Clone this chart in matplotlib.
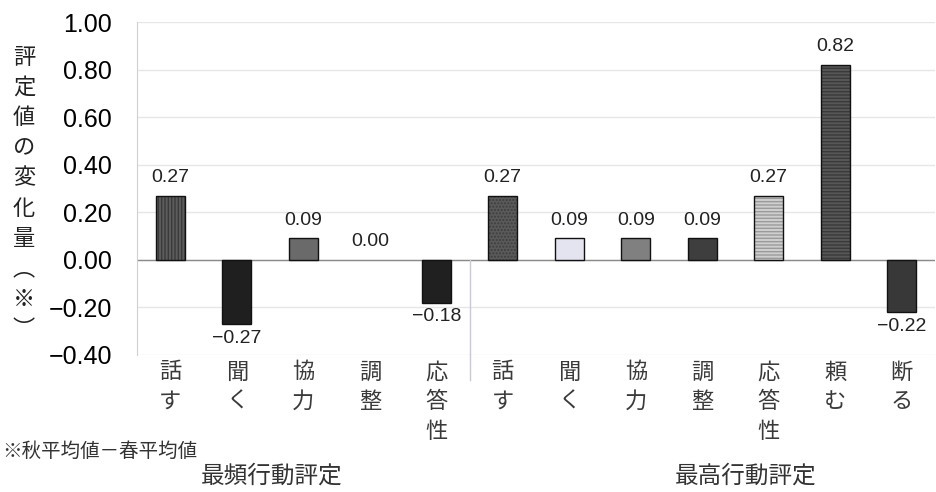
import matplotlib
matplotlib.use("Agg")
import matplotlib.pyplot as plt
import matplotlib.transforms as mtransforms

plt.rcParams['font.family'] = ['Liberation Sans', 'Noto Sans CJK JP', 'DejaVu Sans']
plt.rcParams['axes.unicode_minus'] = True

# change in rating (autumn mean - spring mean) per behaviour
categories = ['話す', '聞く', '協力', '調整', '応答性',
              '話す', '聞く', '協力', '調整', '応答性', '頼む', '断る']
values = [0.27, -0.27, 0.09, 0.00, -0.18,
          0.27, 0.09, 0.09, 0.09, 0.27, 0.82, -0.22]
groups = ['最頻行動評定', '最高行動評定']
group_sizes = [5, 7]
y_ticks = [-0.40, -0.20, 0.00, 0.20, 0.40, 0.60, 0.80, 1.00]
y_label = '評定値の変化量︵※︶'
note = '※秋平均値－春平均値'

face_colors = ['#5c5c5c', '#1f1f1f', '#6a6a6a', '#555555', '#202020',
               '#5a5a5a', '#e4e4f0', '#808080', '#3e3e3e', '#cfcfcf', '#575757', '#383838']
hatches = ['|||||', None, None, None, None,
           '.....', None, None, None, '-----', '-----', None]
hatch_colors = ['#3a3a3a', None, None, None, None,
                '#3e3e3e', None, None, None, '#9a9a9a', '#3a3a3a', None]

fig = plt.figure(figsize=(9.37, 4.92), dpi=100)
ax = fig.add_axes([137 / 937, 1 - 355 / 492, 798 / 937, 333 / 492])

x = list(range(len(categories)))
ax.bar(x, values, width=0.44, color=face_colors, linewidth=0, zorder=3)
for i, (v, h, hc) in enumerate(zip(values, hatches, hatch_colors)):
    if h is None:
        continue
    ax.bar(i, v, width=0.44, color='none', edgecolor=hc, hatch=h, linewidth=0, zorder=4)
# outlines (a zero-height bar gets none)
edge_widths = [1.0 if v != 0 else 0 for v in values]
ax.bar(x, values, width=0.44, fill=False, edgecolor='#111111', linewidth=edge_widths, zorder=5)

ax.set_xlim(-0.5, len(categories) - 0.5)
ax.set_ylim(-0.40, 1.00)
ax.set_yticks(y_ticks)
ax.set_yticklabels([f'{t:.2f}'.replace('-', '\u2212') for t in y_ticks], fontsize=18)
ax.tick_params(axis='y', length=0, pad=18)
ax.set_xticks([])

for t in y_ticks:
    ax.axhline(t, color='#e6e6e6', linewidth=1.0, zorder=1)
ax.axhline(0, color='#8a8a8a', linewidth=1.0, zorder=2)

for side in ['top', 'right', 'bottom']:
    ax.spines[side].set_visible(False)
ax.spines['left'].set_color('#d0d0d0')

# value labels
for i, v in enumerate(values):
    txt = f'{v:.2f}'.replace('-', '\u2212')
    if v >= 0:
        ax.annotate(txt, xy=(i, v), xytext=(0, 7), textcoords='offset points',
                    ha='center', va='bottom', fontsize=14, color='#222222')
    else:
        ax.annotate(txt, xy=(i, v), xytext=(0, -4), textcoords='offset points',
                    ha='center', va='top', fontsize=14, color='#222222')

# vertical category labels, one character per line
trans = mtransforms.blended_transform_factory(ax.transData, ax.transAxes)
for i, name in enumerate(categories):
    for k, ch in enumerate(name):
        ax.annotate(ch, xy=(i, 0), xycoords=trans, xytext=(0, -(12.2 + 21.3 * k)),
                    textcoords='offset points', ha='center', va='center',
                    fontsize=16, color='#3a3a3a', family=['Noto Sans CJK JP'],
                    annotation_clip=False)

# separator between the two groups
ax.plot([group_sizes[0] - 0.5] * 2, [0, -0.505], color='#c8c8d8', linewidth=1.0,
        clip_on=False, zorder=2)

# group titles
fig.text(272 / 937, 1 - 476 / 492, groups[0], ha='center', va='center', fontsize=17,
         color='#333333', family=['Noto Sans CJK JP'])
fig.text(746 / 937, 1 - 476 / 492, groups[1], ha='center', va='center', fontsize=17,
         color='#333333', family=['Noto Sans CJK JP'])

# stacked y-axis title
for k, ch in enumerate(y_label):
    fig.text(24 / 937, 1 - (57 + 30.3 * k) / 492, ch, ha='center', va='center',
             fontsize=16, color='#222222', family=['Noto Sans CJK JP'])

fig.text(2 / 937, 1 - 451 / 492, note, ha='left', va='center', fontsize=14,
         color='#333333', family=['Noto Sans CJK JP'])

fig.savefig('out.png', dpi=100)
